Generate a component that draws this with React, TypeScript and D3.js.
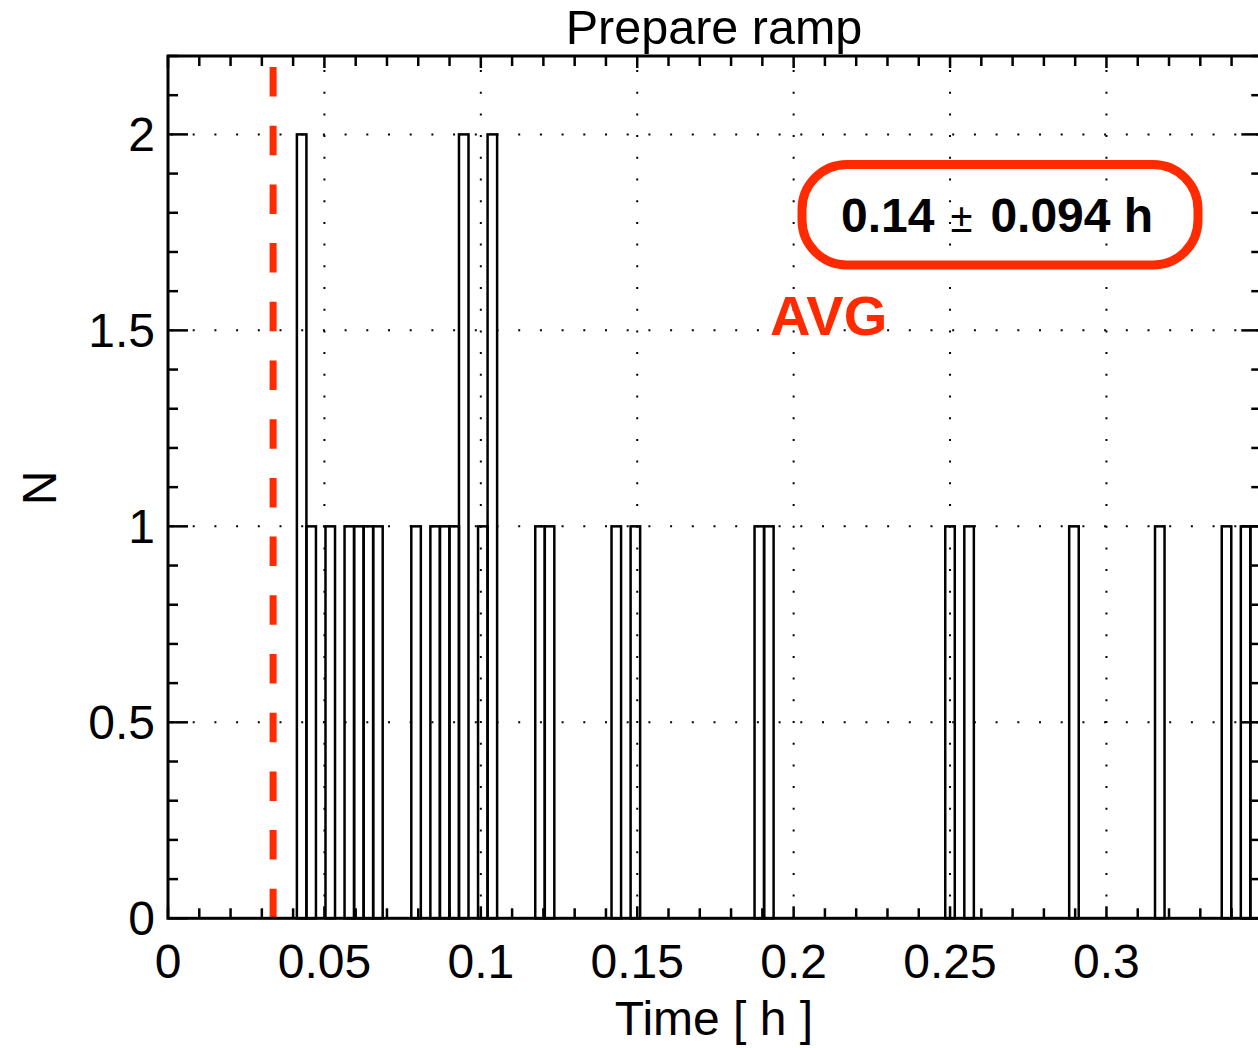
import React from "react";
import * as d3 from "d3";

// ---- data ----
const title = "Prepare ramp";
const xLabel = "Time [ h ]";
const yLabel = "N";
const binStart = 0.0412;
const binWidth = 0.003048;
const counts = [
  2, 1, 0, 1, 0, 1, 1, 1, 1, 0,
  0, 0, 1, 0, 1, 1, 1, 2, 0, 1,
  2, 0, 0, 0, 0, 1, 1, 0, 0, 0,
  0, 0, 0, 1, 0, 1, 0, 0, 0, 0,
  0, 0, 0, 0, 0, 0, 0, 0, 1, 1,
  0, 0, 0, 0, 0, 0, 0, 0, 0, 0,
  0, 0, 0, 0, 0, 0, 0, 0, 1, 0,
  1, 0, 0, 0, 0, 0, 0, 0, 0, 0,
  0, 1, 0, 0, 0, 0, 0, 0, 0, 0,
  1, 0, 0, 0, 0, 0, 0, 1, 0, 1,
  1,
];
const xTicks = [0, 0.05, 0.1, 0.15, 0.2, 0.25, 0.3];
const xTickLabels = ["0", "0.05", "0.1", "0.15", "0.2", "0.25", "0.3"];
const yTicks = [0, 0.5, 1, 1.5, 2];
const yTickLabels = ["0", "0.5", "1", "1.5", "2"];
const avgLine = 0.0336;
const avgText = "AVG";
const statMean = "0.14";
const statSd = "0.094 h";

const RED = "#ff2a00";
const FONT = "'Liberation Sans', Arial, Helvetica, sans-serif";

export default function App() {
  const W = 1258;
  const H = 1048;
  const x = d3.scaleLinear().domain([0, 0.3495]).range([168, 1261.3]);
  const y = d3.scaleLinear().domain([0, 2.2]).range([918.3, 56]);
  const [x0, x1] = x.range();
  const [yb, yt] = y.range();

  const xMinor = d3.range(0, 35).map((i) => i * 0.01).filter((v) => v > 0 && Math.round(v * 100) % 5 !== 0);
  const yMinor = d3.range(0, 23).map((i) => i * 0.1).filter((v) => v > 0 && Math.round(v * 10) % 5 !== 0);

  const bars = counts
    .map((c, i) => ({ c, lo: binStart + i * binWidth, hi: binStart + (i + 1) * binWidth }))
    .filter((b) => b.c > 0);

  return (
    <svg
      width={W}
      height={H}
      style={{ position: "absolute", left: 0, top: 0, background: "#fff" }}
      fontFamily={FONT}
    >
      <rect x={0} y={0} width={W} height={H} fill="#fff" />
      {/* grid */}
      {xTicks.filter((v) => v > 0).map((v) => (
        <line key={"gx" + v} x1={x(v)} x2={x(v)} y1={yb} y2={yt} stroke="#000" strokeWidth={2} strokeDasharray="2 19.7" />
      ))}
      {yTicks.filter((v) => v > 0).map((v) => (
        <line key={"gy" + v} x1={x0 + 3} x2={x1} y1={y(v)} y2={y(v)} stroke="#000" strokeWidth={2} strokeDasharray="2 19.7" />
      ))}
      {/* bars */}
      {bars.map((b, i) => (
        <rect
          key={"b" + i}
          x={x(b.lo)}
          y={y(b.c)}
          width={x(b.hi) - x(b.lo)}
          height={yb - y(b.c)}
          fill="none"
          stroke="#000"
          strokeWidth={2.5}
        />
      ))}
      {/* avg dashed line */}
      <line x1={x(avgLine)} x2={x(avgLine)} y1={yb} y2={yt} stroke={RED} strokeWidth={7} strokeDasharray="29.5 29.2" />
      {/* minor ticks */}
      {xMinor.map((v) => (
        <g key={"mx" + v}>
          <line x1={x(v)} x2={x(v)} y1={yb} y2={yb - 10} stroke="#000" strokeWidth={2.5} />
          <line x1={x(v)} x2={x(v)} y1={yt} y2={yt + 10} stroke="#000" strokeWidth={2.5} />
        </g>
      ))}
      {xTicks.map((v) => (
        <g key={"Mx" + v}>
          <line x1={x(v)} x2={x(v)} y1={yb} y2={yb - 12} stroke="#000" strokeWidth={2.5} />
          <line x1={x(v)} x2={x(v)} y1={yt} y2={yt + 12} stroke="#000" strokeWidth={2.5} />
        </g>
      ))}
      {yMinor.map((v) => (
        <g key={"my" + v}>
          <line x1={x0} x2={x0 + 10} y1={y(v)} y2={y(v)} stroke="#000" strokeWidth={2.5} />
          <line x1={x1} x2={x1 - 10} y1={y(v)} y2={y(v)} stroke="#000" strokeWidth={2.5} />
        </g>
      ))}
      {yTicks.map((v) => (
        <g key={"My" + v}>
          <line x1={x0} x2={x0 + 20} y1={y(v)} y2={y(v)} stroke="#000" strokeWidth={2.5} />
          <line x1={x1} x2={x1 - 20} y1={y(v)} y2={y(v)} stroke="#000" strokeWidth={2.5} />
        </g>
      ))}
      {/* frame */}
      <rect x={x0} y={yt} width={x1 - x0} height={yb - yt} fill="none" stroke="#000" strokeWidth={3} />
      {/* tick labels */}
      {xTicks.map((v, i) => (
        <text key={"lx" + v} x={x(v)} y={978} fontSize={48} textAnchor="middle" fill="#000">
          {xTickLabels[i]}
        </text>
      ))}
      {yTicks.map((v, i) => (
        <text key={"ly" + v} x={155} y={y(v) + 17} fontSize={48} textAnchor="end" fill="#000">
          {yTickLabels[i]}
        </text>
      ))}
      {/* titles */}
      <text x={714} y={44} fontSize={48.5} textAnchor="middle" fill="#000">{title}</text>
      <text x={714} y={1035} fontSize={48} textAnchor="middle" fill="#000">{xLabel}</text>
      <text transform="translate(56,488) rotate(-90)" fontSize={48} textAnchor="middle" fill="#000">{yLabel}</text>
      {/* stats box */}
      <rect x={802} y={164.5} width={396} height={100.5} rx={45} ry={45} fill="none" stroke={RED} strokeWidth={9} />
      <text x={841} y={231.5} fill="#000">
        <tspan fontSize={48} fontWeight="bold">{statMean}</tspan>
        <tspan fontSize={40} dx={16}>±</tspan>
        <tspan fontSize={48} fontWeight="bold" dx={18}>{statSd}</tspan>
      </text>
      <text x={770} y={335} fontSize={56} fontWeight="bold" fill={RED}>{avgText}</text>
    </svg>
  );
}
